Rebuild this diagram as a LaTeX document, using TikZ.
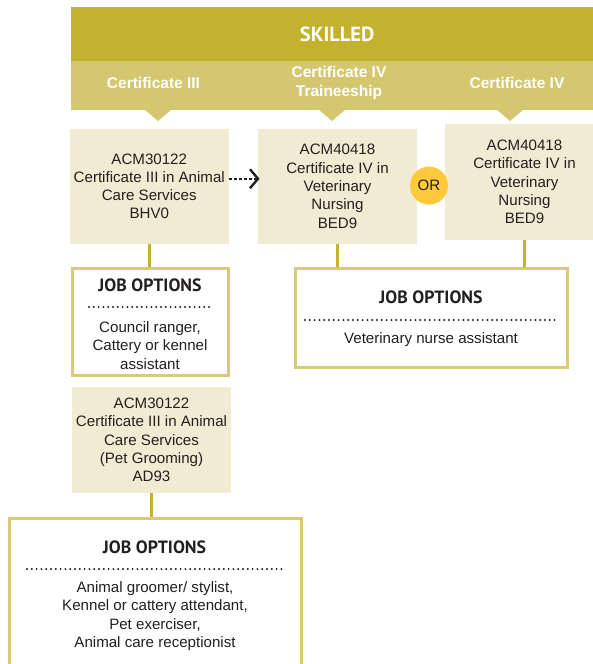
\documentclass[tikz,border=0pt]{standalone}
\usepackage{fontspec}
\setmainfont{Liberation Sans}
\newfontfamily\headfont{PT Sans}
\usetikzlibrary{arrows.meta}

\definecolor{skilldark}{RGB}{196,178,47}
\definecolor{skilllight}{RGB}{212,199,112}
\definecolor{coursefill}{RGB}{242,235,211}
\definecolor{jobline}{RGB}{217,203,115}
\definecolor{orfill}{RGB}{255,201,60}
\definecolor{ink}{RGB}{35,31,32}

\begin{document}
\begin{tikzpicture}[x=1pt, y=-1pt,
    course/.style={rectangle, fill=coursefill, text=ink, align=center, inner sep=0pt,
      font=\fontsize{15.1}{18.3}\selectfont},
    jobbox/.style={rectangle, draw=jobline, line width=3pt, inner sep=0pt},
    jobhead/.style={text=ink, font=\headfont\bfseries\fontsize{17.8}{20}\selectfont},
    jobtext/.style={text=ink, align=center, font=\fontsize{15.1}{18.3}\selectfont},
    bandtext/.style={text=white, align=center, font=\bfseries\fontsize{15.5}{19}\selectfont},
    link/.style={draw=skilldark, line width=3pt},
    sep/.style={draw=ink, line width=2.2pt, dash pattern=on 0pt off 4.8pt, line cap=round}
    ]
    \useasboundingbox (0,0) rectangle (593,664);
    \clip (0,0) rectangle (593,664);

    % header bands
    \node[fill=skilldark, minimum width=532, minimum height=54, anchor=north west, inner sep=0pt,
      text=white, font=\headfont\bfseries\fontsize{20.5}{22}\selectfont] (skilled) at (71,7) {SKILLED};
    \node[fill=skilllight, minimum width=532, minimum height=49, anchor=north west, inner sep=0pt] (levels) at (71,61) {};
    \foreach \tx in {158,332,510}
      \fill[skilllight] (\tx-14,109) -- (\tx+14,109) -- (\tx,121) -- cycle;
    \node[bandtext] (cert3) at (153.5,83) {Certificate III};
    \node[bandtext] (cert4t) at (339,82.5) {Certificate IV\\Traineeship};
    \node[bandtext] (cert4) at (517,83) {Certificate IV};

    % courses
    \node[course, minimum width=159.5, minimum height=115.5] (a) at (149.25,186.25)
      {ACM30122\\Certificate III in Animal\\Care Services\\BHV0};
    \node[course, minimum width=159.5, minimum height=115.5] (b) at (337.5,186.25)
      {ACM40418\\Certificate IV in\\Veterinary\\Nursing\\BED9};
    \node[course, minimum width=159, minimum height=116] (c) at (524.5,182)
      {ACM40418\\Certificate IV in\\Veterinary\\Nursing\\BED9};
    \node[circle, fill=orfill, minimum size=38, inner sep=0pt, text=ink,
      font=\fontsize{15.1}{16}\selectfont] (or) at (429,185.6) {OR};
    \node[course, minimum width=159, minimum height=106] (d) at (151.5,440)
      {ACM30122\\Certificate III in Animal\\Care Services\\(Pet Grooming)\\AD93};

    % job options
    \node[jobbox, minimum width=156, minimum height=107] (job1) at (150,321.5) {};
    \node[jobhead] (job1head) at (150,285) {JOB OPTIONS};
    \draw[sep] (89,307) -- (212,307);
    \node[jobtext] (job1text) at (150,345.5) {Council ranger,\\Cattery or kennel\\assistant};

    \node[jobbox, minimum width=272, minimum height=99] (job2) at (431,317.5) {};
    \node[jobhead] (job2head) at (431,297) {JOB OPTIONS};
    \draw[sep] (305,320) -- (558,320);
    \node[jobtext] (job2text) at (431,340) {Veterinary nurse assistant};

    \node[jobbox, minimum width=292, minimum height=175, anchor=north] (job3) at (155,517) {};
    \node[jobhead] (job3head) at (154.5,547) {JOB OPTIONS};
    \draw[sep] (27,569) -- (283,569);
    \node[jobtext] (job3text) at (155,616)
      {Animal groomer/ stylist,\\Kennel or cattery attendant,\\Pet exerciser,\\Animal care receptionist};

    % links
    \draw[link] (a.south) -- (a.south |- job1.north);
    \draw[link] (b.south) -- (b.south |- job2.north);
    \draw[link] (c.south) -- (c.south |- job2.north);
    \draw[link] (d.south) -- (d.south |- job3.north);
    \draw[ink, line width=2.4pt, dash pattern=on 2.4pt off 2.6pt,
      -{Straight Barb[length=8pt, width=19pt, line width=2.4pt]}]
      ([yshift=7.5pt]a.east) -- ([yshift=7.5pt, xshift=2pt]b.west);
\end{tikzpicture}
\end{document}
